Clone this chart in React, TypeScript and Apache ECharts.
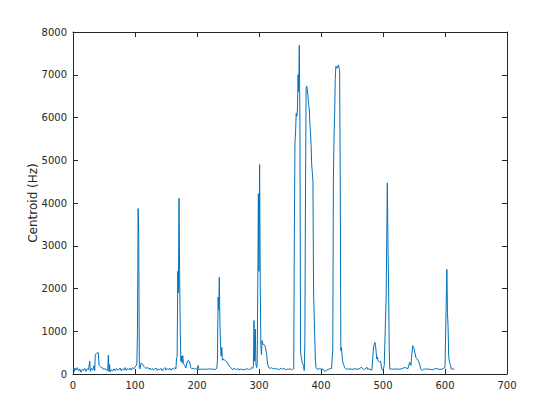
import React, { useEffect, useRef } from "react";
import * as echarts from "echarts";

// Frame index (x) and spectral centroid in Hz (y)
const frames: number[] = [
  1, 2, 3, 5, 7, 9, 11, 13, 15, 17, 19, 21, 23, 25, 27, 28, 30, 32, 34, 35,
  36, 38, 40, 41, 42, 44, 46, 48, 50, 52, 54, 56, 57, 58, 59, 60, 62, 64, 66, 68,
  70, 72, 74, 76, 78, 80, 82, 84, 86, 88, 90, 92, 94, 96, 98, 100, 102, 103, 104, 105,
  106, 107, 108, 110, 112, 114, 116, 118, 120, 122, 124, 126, 128, 130, 132, 134, 136, 138, 140, 142,
  144, 146, 148, 150, 152, 154, 156, 158, 160, 162, 164, 166, 167, 168, 169, 170, 171, 172, 173, 174,
  175, 176, 177, 178, 180, 182, 184, 186, 188, 190, 192, 194, 196, 198, 200, 202, 203, 206, 210, 215,
  220, 225, 230, 232, 233, 234, 235, 236, 237, 238, 239, 240, 241, 242, 244, 246, 248, 250, 252, 254,
  256, 258, 260, 262, 264, 266, 268, 270, 272, 274, 276, 278, 280, 282, 284, 286, 288, 290, 291, 292,
  293, 294, 295, 296, 297, 298, 299, 300, 301, 302, 303, 304, 305, 306, 308, 310, 312, 314, 316, 318,
  320, 322, 324, 326, 328, 330, 332, 334, 336, 338, 340, 342, 344, 346, 348, 350, 352, 354, 356, 357,
  358, 359, 360, 361, 362, 363, 364, 365, 366, 367, 368, 369, 370, 371, 372, 373, 374, 375, 376, 377,
  378, 379, 380, 381, 382, 384, 385, 387, 388, 390, 391, 392, 393, 395, 398, 400, 403, 406, 409, 412,
  414, 417, 419, 420, 421, 422, 423, 424, 426, 428, 430, 431, 432, 433, 434, 435, 436, 437, 438, 440,
  442, 445, 450, 455, 460, 465, 470, 474, 475, 477, 479, 482, 485, 487, 488, 489, 490, 491, 492, 493,
  494, 496, 498, 499, 500, 502, 505, 507, 508, 509, 510, 511, 512, 513, 514, 517, 520, 525, 530, 535,
  540, 543, 545, 546, 548, 549, 550, 551, 552, 553, 555, 557, 559, 561, 563, 565, 567, 569, 572, 575,
  580, 585, 590, 595, 600, 603, 604, 605, 606, 607, 608, 609, 610, 611, 613, 615, 617, 620,
];

const centroidHz: number[] = [
  150, 60, 140, 90, 150, 70, 120, 40, 110, 80, 130, 60, 120, 100, 300, 60, 130, 90, 200, 80,
  460, 470, 510, 480, 200, 170, 150, 140, 100, 130, 90, 80, 440, 60, 220, 50, 100, 70, 120, 80,
  130, 90, 100, 140, 70, 120, 90, 150, 80, 130, 100, 140, 90, 150, 120, 160, 200, 250, 1000, 3870,
  3270, 150, 120, 260, 230, 180, 150, 130, 160, 110, 140, 100, 130, 90, 120, 140, 80, 120, 100, 130,
  70, 110, 150, 90, 130, 100, 140, 90, 130, 110, 150, 120, 380, 400, 2400, 1900, 4110, 2300, 1020, 300,
  420, 260, 430, 250, 200, 140, 280, 320, 280, 150, 120, 140, 110, 130, 100, 200, 100, 110, 115, 110,
  120, 110, 110, 140, 350, 1800, 1500, 2260, 1210, 660, 420, 620, 320, 350, 330, 310, 290, 240, 180, 160,
  120, 100, 140, 110, 100, 130, 90, 120, 100, 110, 90, 120, 110, 130, 100, 110, 150, 130, 200, 1250,
  300, 1050, 250, 150, 200, 1950, 4220, 2400, 4900, 2100, 660, 450, 780, 700, 690, 650, 500, 220, 150, 130,
  150, 120, 140, 110, 130, 120, 100, 120, 140, 110, 130, 110, 100, 120, 110, 120, 100, 110, 120, 3230,
  5400, 5680, 6100, 6030, 6200, 7000, 6610, 7690, 5910, 540, 400, 330, 250, 230, 180, 80, 780, 4280, 6690, 6730,
  6650, 6500, 6300, 6220, 5900, 5370, 4900, 4510, 1945, 817, 300, 155, 120, 110, 130, 110, 120, 60, 90,
  110, 120, 130, 580, 4630, 5500, 6070, 6890, 7200, 7150, 7230, 7120, 4670, 545, 620, 420, 300, 230, 200,
  150, 120, 110, 120, 110, 120, 110, 155, 100, 160, 110, 120, 110, 90, 661, 740, 660, 505, 350, 400,
  320, 300, 280, 300, 117, 100, 78, 200, 1750, 4470, 2995, 2100, 600, 117, 120, 110, 120, 110, 120, 110,
  120, 155, 120, 272, 200, 389, 661, 622, 600, 520, 467, 389, 350, 311, 233, 117, 78, 110, 120, 110,
  120, 110, 100, 130, 110, 110, 155, 2450, 1440, 1090, 389, 300, 250, 195, 117, 120, 117, 110,
];

const xTicks: number[] = [0, 100, 200, 300, 400, 500, 600, 700];
const yTicks: number[] = [0, 1000, 2000, 3000, 4000, 5000, 6000, 7000, 8000];
const yLabel = "Centroid (Hz)";

export default function App() {
  const ref = useRef<HTMLDivElement>(null);

  useEffect(() => {
    if (!ref.current) return;
    const chart = echarts.init(ref.current, null, { renderer: "svg" });
    const data = frames.map((f, i) => [f, centroidHz[i]]);
    const axisColor = "#262626";
    const labelFont = {
      color: "#262626",
      fontSize: 10,
      fontFamily: "DejaVu Sans",
    };
    const plain = (v: number) => String(v);
    const xMin = xTicks[0];
    const xMax = xTicks[xTicks.length - 1];
    const yMin = yTicks[0];
    const yMax = yTicks[yTicks.length - 1];
    const xInt = xTicks[1] - xTicks[0];
    const yInt = yTicks[1] - yTicks[0];
    const line = { show: true, onZero: false, lineStyle: { color: axisColor, width: 1 } };
    const tick = { show: true, inside: true, length: 5, lineStyle: { color: axisColor } };
    chart.setOption({
      animation: false,
      backgroundColor: "#ffffff",
      grid: { left: 73, right: 53, top: 32, bottom: 46, containLabel: false },
      xAxis: [
        {
          type: "value",
          min: xMin,
          max: xMax,
          interval: xInt,
          position: "bottom",
          axisLine: line,
          axisTick: tick,
          axisLabel: { ...labelFont, margin: 6, formatter: plain },
          splitLine: { show: false },
        },
        {
          type: "value",
          min: xMin,
          max: xMax,
          interval: xInt,
          position: "top",
          axisLine: line,
          axisTick: tick,
          axisLabel: { show: false },
          splitLine: { show: false },
        },
      ],
      yAxis: [
        {
          type: "value",
          min: yMin,
          max: yMax,
          interval: yInt,
          position: "left",
          name: yLabel,
          nameLocation: "middle",
          nameGap: 34,
          nameMoveOverlap: false,
          nameTextStyle: { ...labelFont, fontSize: 12 },
          axisLine: line,
          axisTick: tick,
          axisLabel: { ...labelFont, margin: 6, formatter: plain },
          splitLine: { show: false },
        },
        {
          type: "value",
          min: yMin,
          max: yMax,
          interval: yInt,
          position: "right",
          axisLine: line,
          axisTick: tick,
          axisLabel: { show: false },
          splitLine: { show: false },
        },
      ],
      series: [
        {
          type: "line",
          data,
          xAxisIndex: 0,
          yAxisIndex: 0,
          showSymbol: false,
          symbol: "none",
          lineStyle: { color: "#0072BD", width: 1 },
        },
      ],
    });
    return () => chart.dispose();
  }, []);

  return <div ref={ref} style={{ width: 560, height: 420, margin: -8 }} />;
}
